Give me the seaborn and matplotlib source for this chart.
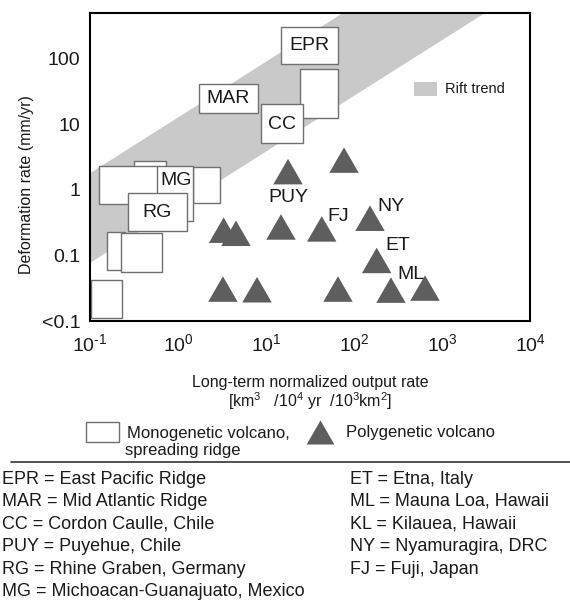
import numpy as np
import pandas as pd
import matplotlib
matplotlib.use("Agg")
import matplotlib.pyplot as plt
import seaborn as sns
from matplotlib.patches import Rectangle, Patch
from matplotlib.lines import Line2D
from matplotlib.path import Path

# ---------------- data ----------------
# Polygenetic volcanoes (triangles)
poly_x = [17.8, 77, 152, 43, 14.8, 3.3, 4.56, 181, 3.24, 7.9, 65.8, 263, 641]
poly_y = [1.90, 2.85, 0.37, 0.254, 0.272, 0.243, 0.218, 0.084, 0.0307, 0.030, 0.0307, 0.0296, 0.0318]
poly_lab = ["PUY", "NY", "FJ", "ET", "ML"]
poly_lab_x = [17.8, 260, 66.7, 316, 445]
poly_lab_y = [0.77, 0.562, 0.396, 0.1435, 0.051]

# Monogenetic volcanoes / spreading ridges (ranges drawn as boxes)
box_x0 = [0.102, 0.156, 0.225, 0.316, 0.127, 1.48, 0.577, 0.27, 1.73, 24.3, 14.8, 8.77]
box_x1 = [0.23, 0.25, 0.66, 0.73, 0.593, 3.0, 1.48, 1.26, 8.1, 65.8, 65.8, 26.3]
box_y0 = [0.011, 0.06, 0.056, 0.9, 0.60, 0.625, 0.333, 0.234, 14.7, 12.7, 84.5, 5.12]
box_y1 = [0.042, 0.226, 0.218, 2.72, 2.29, 2.21, 2.29, 0.887, 41.9, 71, 309, 20.1]
box_lab = ["MG", "RG", "MAR", "EPR", "CC"]
box_lab_x = [0.95, 0.585, 3.7, 31.2, 15.2]
box_lab_y = [1.40, 0.456, 24.8, 158, 9.95]

# Rift trend band (log-log straight band)
rift_x = [0.1, 1e4]
rift_lo = [0.079, 1400]
rift_hi = [1.85, 33000]

xticks = [0.1, 1, 10, 100, 1000, 10000]
xtick_labels = [r"$\mathregular{10^{\text{-}1}}$", r"$\mathregular{10^{0}}$", r"$\mathregular{10^{1}}$",
                r"$\mathregular{10^{2}}$", r"$\mathregular{10^{3}}$", r"$\mathregular{10^{4}}$"]
yticks = [100, 10, 1, 0.1, 0.01]
ytick_labels = ["100", "10", "1", "0.1", "<0.1"]

abbrev_left = ["EPR = East Pacific Ridge", "MAR = Mid Atlantic Ridge", "CC = Cordon Caulle, Chile",
               "PUY = Puyehue, Chile", "RG = Rhine Graben, Germany", "MG = Michoacan-Guanajuato, Mexico"]
abbrev_right = ["ET = Etna, Italy", "ML = Mauna Loa, Hawaii", "KL = Kilauea, Hawaii",
                "NY = Nyamuragira, DRC", "FJ = Fuji, Japan"]

# ---------------- style ----------------
sns.set_theme(style="white")
plt.rcParams["font.family"] = ["Liberation Sans", "DejaVu Sans"]
plt.rcParams["mathtext.fontset"] = "custom"
plt.rcParams["mathtext.rm"] = "Liberation Sans"
plt.rcParams["mathtext.it"] = "Liberation Sans:italic"
plt.rcParams["mathtext.bf"] = "Liberation Sans:bold"

TXT = "#1a1a1a"
TRI = "#5e5e5e"
BAND = "#c9c9c9"
EDGE = "#707070"

W, H = 570, 605
fig = plt.figure(figsize=(W / 100, H / 100), dpi=100)
ax = fig.add_axes([90 / W, 1 - 321 / H, 440 / W, 308 / H])
ax.set_xscale("log")
ax.set_yscale("log")
ax.set_xlim(0.1, 1e4)
ax.set_ylim(0.01, 500)

ax.fill_between(rift_x, rift_lo, rift_hi, color=BAND, lw=0, zorder=0)

for i in range(len(box_x0)):
    ax.add_patch(Rectangle((box_x0[i], box_y0[i]), box_x1[i] - box_x0[i], box_y1[i] - box_y0[i],
                           facecolor="white", edgecolor=EDGE, lw=1.0, zorder=2 + i * 0.01))
for t, x, y in zip(box_lab, box_lab_x, box_lab_y):
    ax.text(x, y, t, fontsize=14, color=TXT, ha="center", va="center", zorder=5)

tri = Path([(-1, -0.866), (1, -0.866), (0, 0.866), (-1, -0.866)],
           [Path.MOVETO, Path.LINETO, Path.LINETO, Path.CLOSEPOLY])
df = pd.DataFrame({"x": poly_x, "y": poly_y})
sns.scatterplot(data=df, x="x", y="y", marker=tri, s=450, color=TRI, edgecolor="none",
                linewidth=0, ax=ax, zorder=4, legend=False)
for t, x, y in zip(poly_lab, poly_lab_x, poly_lab_y):
    ax.text(x, y, t, fontsize=14, color=TXT, ha="center", va="center", zorder=6)

ax.set_xticks(xticks)
ax.set_xticklabels(xtick_labels)
ax.set_yticks(yticks)
ax.set_yticklabels(ytick_labels)
ax.minorticks_off()
ax.tick_params(axis="both", length=0, labelsize=14, labelcolor=TXT)
ax.tick_params(axis="x", pad=9)
ax.tick_params(axis="y", pad=7)
for s in ax.spines.values():
    s.set_color("black")
    s.set_linewidth(1.5)
ax.set_xlabel("")
ax.set_ylabel("")

ax.legend(handles=[Patch(facecolor=BAND, edgecolor="none", label="Rift trend")],
          loc="center left", bbox_to_anchor=(324 / 440, (321 - 89) / 308), frameon=False,
          borderpad=0, borderaxespad=0, handlelength=1.6, handleheight=1.1,
          handletextpad=0.5, fontsize=10.5, labelcolor=TXT)

# axis titles
fig.text(27 / W, 1 - 185 / H, "Deformation rate (mm/yr)", rotation=90, fontsize=11.5,
         color=TXT, ha="center", va="center")
fig.text(310 / W, 1 - 383 / H, "Long-term normalized output rate", fontsize=11.5,
         color=TXT, ha="center", va="center")
fig.text(310 / W, 1 - 401 / H,
         r"[km$\mathregular{^3}$   /10$\mathregular{^4}$ yr  /10$\mathregular{^3}$km$\mathregular{^2}$]",
         fontsize=11.5, color=TXT, ha="center", va="center")

# marker key
fig.legend(handles=[Patch(facecolor="white", edgecolor=EDGE, lw=1.0, label="Monogenetic volcano,")],
           loc="center left", bbox_to_anchor=(86 / W, 1 - 432 / H), frameon=False,
           borderpad=0, borderaxespad=0, handlelength=2.0, handleheight=1.4,
           handletextpad=0.45, fontsize=12, labelcolor=TXT)
fig.text(125 / W, 1 - 451 / H, "spreading ridge", fontsize=12, color=TXT, ha="left", va="center")
fig.legend(handles=[Line2D([], [], marker=tri, markersize=20, color=TRI, linestyle="none",
                           markeredgewidth=0, label="Polygenetic volcano")],
           loc="center left", bbox_to_anchor=(306 / W, 1 - 433 / H), frameon=False,
           borderpad=0, borderaxespad=0, handlelength=1.7, handletextpad=0.7,
           fontsize=12, labelcolor=TXT)

fig.add_artist(Line2D([11 / W, 1], [1 - 462 / H, 1 - 462 / H], color="#333333", lw=1.2))

for i, t in enumerate(abbrev_left):
    fig.text(2 / W, 1 - (479 + 22.5 * i) / H, t, fontsize=13, color=TXT, ha="left", va="center")
for i, t in enumerate(abbrev_right):
    fig.text(350 / W, 1 - (479 + 22.5 * i) / H, t, fontsize=13, color=TXT, ha="left", va="center")

fig.savefig("out.png", dpi=100, facecolor="white")
